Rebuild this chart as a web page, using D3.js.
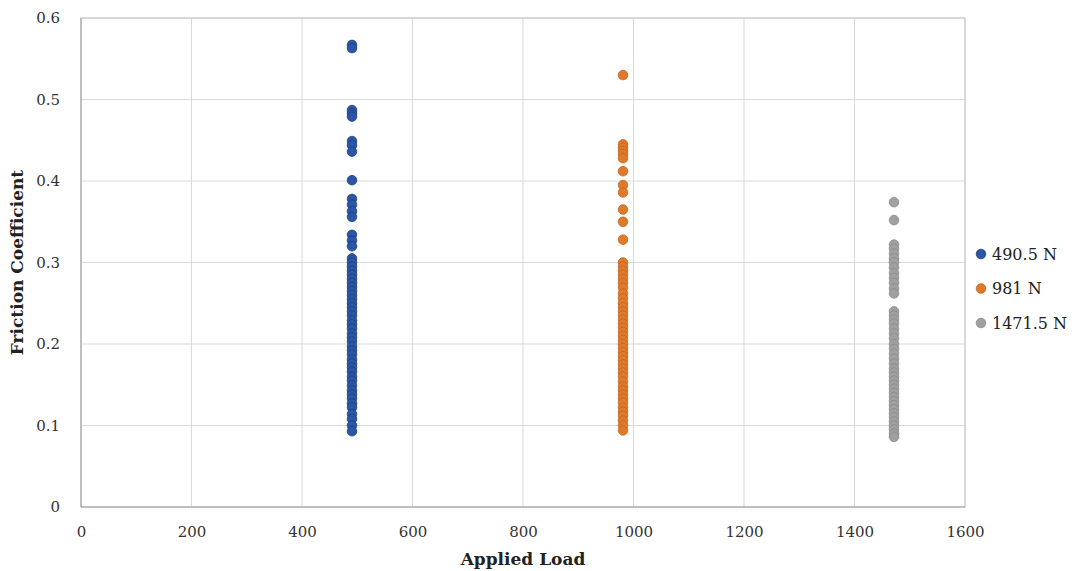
<!DOCTYPE html>
<html><head><meta charset="utf-8">
<script src="https://cdn.jsdelivr.net/npm/d3@7"></script>
<style>body{margin:0;background:#fff}svg{display:block}</style>
</head><body>
<svg id="c" width="1077" height="571"></svg>
<script>
const seriesNames = ["490.5 N", "981 N", "1471.5 N"];
const loads = [490.5, 981, 1471.5];
const s490 = [0.567,0.563,0.487,0.483,0.479,0.449,0.444,0.436,0.401,0.378,0.371,0.363,0.356,0.334,0.327,0.320,
  0.305,0.300,0.295,0.290,0.285,0.280,0.275,0.270,0.265,0.260,0.255,0.250,0.245,0.240,0.235,0.229,0.224,0.219,0.213,0.208,
  0.203,0.197,0.192,0.187,0.181,0.176,0.171,0.166,0.160,0.155,0.149,0.143,0.138,0.133,0.127,0.122,0.114,0.108,0.100,0.093];
const s981 = [0.530,0.445,0.441,0.437,0.433,0.428,0.412,0.395,0.386,0.365,0.350,0.328,
  0.300,0.295,0.290,0.285,0.280,0.275,0.269,0.262,0.256,0.250,0.245,0.240,0.235,0.230,0.225,0.220,0.215,0.210,0.205,0.200,
  0.195,0.190,0.185,0.180,0.175,0.170,0.165,0.160,0.154,0.148,0.143,0.138,0.133,0.128,0.122,0.117,0.112,0.106,0.100,0.094];
const s1471 = [0.374,0.352,0.322,0.317,0.311,0.305,0.300,0.294,0.287,0.281,0.275,0.268,0.262,
  0.240,0.235,0.230,0.225,0.219,0.213,0.207,0.200,0.194,0.188,0.182,0.176,0.170,0.165,0.160,0.155,0.150,0.145,0.140,
  0.135,0.130,0.125,0.120,0.115,0.110,0.105,0.100,0.095,0.090,0.086];
const xTicks = [0,200,400,600,800,1000,1200,1400,1600];
const yTicks = [0,0.1,0.2,0.3,0.4,0.5,0.6];
const colors = ["#2a56a5","#e07a2b","#a0a0a0"];
const strokes = ["#1c3f80","#c2651f","#8a8a8a"];

const allSeries = [s490, s981, s1471];
const svg = d3.select("#c");
const L = 81, T = 18, W = 884, H = 489;
const x = d3.scaleLinear().domain([0,1600]).range([L, L+W]);
const y = d3.scaleLinear().domain([0,0.6]).range([T+H, T]);
const font = "'DejaVu Serif', 'Liberation Serif', serif";

// grid
svg.append("g").selectAll("line.v").data(xTicks).join("line")
  .attr("x1", d=>x(d)).attr("x2", d=>x(d)).attr("y1", T).attr("y2", T+H)
  .attr("stroke", "#d9d9d9").attr("stroke-width", 1);
svg.append("g").selectAll("line.h").data(yTicks).join("line")
  .attr("x1", L).attr("x2", L+W).attr("y1", d=>y(d)).attr("y2", d=>y(d))
  .attr("stroke", "#d9d9d9").attr("stroke-width", 1);
svg.append("rect").attr("x", L).attr("y", T).attr("width", W).attr("height", H)
  .attr("fill", "none").attr("stroke", "#c4c4c4").attr("stroke-width", 1);
svg.append("line").attr("x1", L).attr("x2", L).attr("y1", T).attr("y2", T+H).attr("stroke", "#a6a6a6");
svg.append("line").attr("x1", L).attr("x2", L+W).attr("y1", T+H).attr("y2", T+H).attr("stroke", "#a6a6a6");

// axes tick labels
const xAxis = d3.axisBottom(x).tickValues(xTicks).tickSize(0).tickPadding(19).tickFormat(d3.format("d"));
const gx = svg.append("g").attr("transform", `translate(0,${T+H})`).call(xAxis);
gx.select(".domain").remove();
gx.selectAll("text").attr("font-family", font).attr("font-size", 15).attr("fill", "#333");
const yAxis = d3.axisLeft(y).tickValues(yTicks).tickSize(0).tickPadding(21).tickFormat(d => d===0 ? "0" : d3.format(".1f")(d));
const gy = svg.append("g").attr("transform", `translate(${L},0)`).call(yAxis);
gy.select(".domain").remove();
gy.selectAll("text").attr("font-family", font).attr("font-size", 15).attr("fill", "#333");

// points
allSeries.forEach((s, i) => {
  svg.append("g").selectAll("circle").data(s).join("circle")
    .attr("cx", x(loads[i])).attr("cy", d => y(d)).attr("r", 4.8)
    .attr("fill", colors[i]).attr("stroke", strokes[i]).attr("stroke-width", 0.8);
});

// titles
svg.append("text").attr("x", x(800)).attr("y", 565).attr("text-anchor", "middle")
  .attr("font-family", font).attr("font-size", 17).attr("font-weight", "bold").attr("fill", "#222")
  .text("Applied Load");
svg.append("text").attr("transform", `translate(23,${T+H/2}) rotate(-90)`).attr("text-anchor", "middle")
  .attr("font-family", font).attr("font-size", 17).attr("font-weight", "bold").attr("fill", "#222")
  .text("Friction Coefficient");

// legend
const lg = svg.append("g");
seriesNames.forEach((n, i) => {
  const ly = 254 + i*34.5;
  lg.append("circle").attr("cx", 981).attr("cy", ly).attr("r", 4.8).attr("fill", colors[i]).attr("stroke", strokes[i]).attr("stroke-width", 0.8);
  lg.append("text").attr("x", 992).attr("y", ly).attr("dy", "0.35em")
    .attr("font-family", font).attr("font-size", 16).attr("fill", "#222").text(n);
});
</script>
</body></html>
